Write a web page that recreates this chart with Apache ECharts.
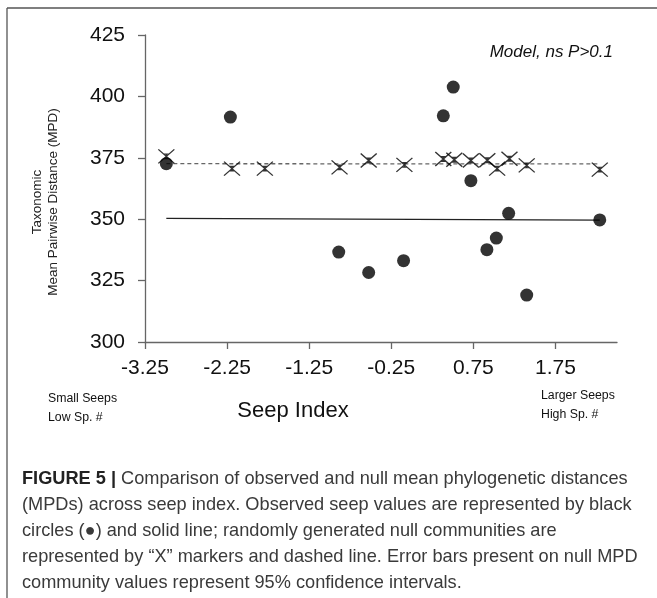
<!DOCTYPE html>
<html>
<head>
<meta charset="utf-8">
<title>Seep index MPD</title>
<script src="https://cdn.jsdelivr.net/npm/echarts@6/dist/echarts.min.js"></script>
<style>
  html, body { margin: 0; padding: 0; background: #fff; }
  #main { width: 657px; height: 598px; }
</style>
</head>
<body>
<div id="main"></div>
<script>
// observed seep values (black circles)
var obsX = [-2.99, -2.21, -0.89, -0.525, -0.10, 0.384, 0.505, 0.72, 0.915, 1.03, 1.18, 1.40, 2.29];
var obsY = [372.6, 391.6, 336.6, 328.3, 333.1, 392.1, 403.8, 365.7, 337.6, 342.3, 352.4, 319.1, 349.7];
// null communities ("X" markers)
var nullX = [-2.99, -2.19, -1.79, -0.88, -0.525, -0.09, 0.384, 0.518, 0.72, 0.92, 1.04, 1.19, 1.40, 2.29];
var nullY = [375.6, 370.6, 370.6, 371.1, 373.9, 372.1, 374.5, 374.2, 373.9, 374.0, 370.6, 374.6, 371.9, 370.2];
// fitted lines, end points
var obsFit = [[-2.99, 350.3], [2.29, 349.6]];
var nullFit = [[-2.99, 372.6], [2.29, 372.5]];
// tick labels
var xTicks = [-3.25, -2.25, -1.25, -0.25, 0.75, 1.75];

var captionLines = [
  'Comparison of observed and null mean phylogenetic distances',
  '(MPDs) across seep index. Observed seep values are represented by black',
  'circles (\u25CF) and solid line; randomly generated null communities are',
  'represented by \u201CX\u201D markers and dashed line. Error bars present on null MPD',
  'community values represent 95% confidence intervals.'
];

function zip(a, b) {
  return a.map(function (v, i) { return [v, b[i]]; });
}

var font = '"Liberation Sans", Arial, sans-serif';
var axisCol = '#666';

var graphics = [
  // frame of the figure
  { type: 'line', shape: { x1: 7, y1: 8, x2: 7, y2: 598 }, style: { stroke: '#555', lineWidth: 1.3 } },
  { type: 'line', shape: { x1: 7, y1: 8, x2: 657, y2: 8 }, style: { stroke: '#555', lineWidth: 1.3 } },
  // y axis title
  {
    type: 'text', x: 45, y: 202, rotation: Math.PI / 2,
    style: {
      text: 'Taxonomic\nMean Pairwise Distance (MPD)',
      font: '13.5px ' + font, fill: '#222', align: 'center', verticalAlign: 'middle', lineHeight: 16
    }
  },
  {
    type: 'text', x: 613, y: 52,
    style: { text: 'Model, ns P>0.1', font: 'italic 17px ' + font, fill: '#111', align: 'right', verticalAlign: 'middle' }
  },
  {
    type: 'text', x: 293, y: 411,
    style: { text: 'Seep Index', font: '22px ' + font, fill: '#111', align: 'center', verticalAlign: 'middle' }
  },
  {
    type: 'text', x: 48, y: 408,
    style: { text: 'Small Seeps\nLow Sp. #', font: '12.3px ' + font, fill: '#111', align: 'left', verticalAlign: 'middle', lineHeight: 19 }
  },
  {
    type: 'text', x: 541, y: 405,
    style: { text: 'Larger Seeps\nHigh Sp. #', font: '12.3px ' + font, fill: '#111', align: 'left', verticalAlign: 'middle', lineHeight: 19 }
  }
];

captionLines.forEach(function (line, i) {
  graphics.push({
    type: 'text', x: 22, y: 479 + i * 26,
    style: {
      text: i === 0 ? '{b|FIGURE 5 |} ' + line : line,
      font: '18.2px ' + font, fill: '#3a3a3a', verticalAlign: 'middle',
      rich: { b: { fontWeight: 'bold', fontSize: 18.2, fontFamily: font, fill: '#222' } }
    }
  });
});

var chart = echarts.init(document.getElementById('main'));
chart.setOption({
  animation: false,
  backgroundColor: '#fff',
  grid: { left: 145, right: 40, top: 35, bottom: 256 },
  xAxis: {
    type: 'value', min: -3.25, max: 2.5,
    splitLine: { show: false },
    axisLine: { onZero: false, lineStyle: { color: axisCol, width: 1.3 } },
    axisTick: { length: 7, lineStyle: { color: axisCol, width: 1.3 }, customValues: xTicks },
    axisLabel: { fontSize: 21, color: '#111', fontFamily: font, margin: 16, customValues: xTicks }
  },
  yAxis: {
    type: 'value', min: 300, max: 425, interval: 25,
    splitLine: { show: false },
    axisLine: { show: true, onZero: false, lineStyle: { color: axisCol, width: 1.3 } },
    axisTick: { show: true, length: 7, lineStyle: { color: axisCol, width: 1.3 } },
    axisLabel: { fontSize: 21, color: '#111', fontFamily: font, margin: 20 }
  },
  graphic: graphics,
  series: [
    {
      type: 'line', data: nullFit, showSymbol: false, silent: true,
      lineStyle: { color: '#666', width: 1.3, type: [4, 3] }, z: 1
    },
    {
      type: 'line', data: obsFit, showSymbol: false, silent: true,
      lineStyle: { color: '#222', width: 1.2 }, z: 1
    },
    {
      type: 'scatter', data: zip(nullX, nullY),
      symbol: 'path://M0,0L14,12M14,0L0,12M5,4H9M5,8H9M7,4V8',
      symbolSize: [16, 14],
      itemStyle: { color: 'none', borderColor: '#000', borderWidth: 1.3 }, z: 3
    },
    {
      type: 'scatter', data: zip(obsX, obsY), symbol: 'circle', symbolSize: 13,
      itemStyle: { color: '#000' }, z: 4
    }
  ]
});
</script>
</body>
</html>
